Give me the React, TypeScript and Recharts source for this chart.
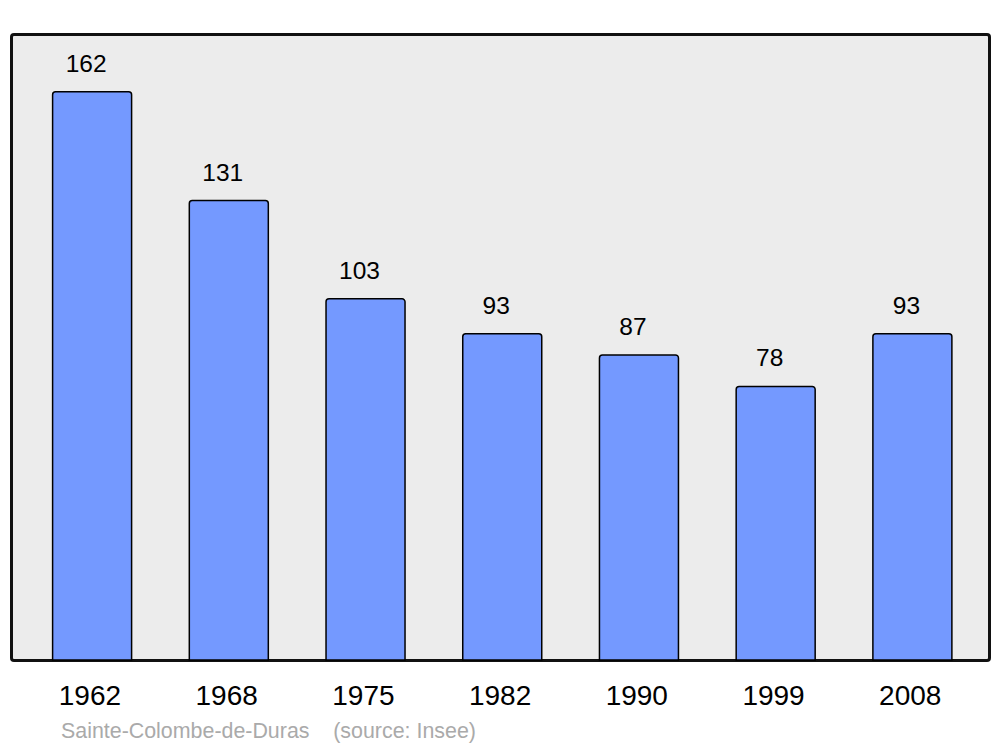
import React from 'react';
import { BarChart, Bar, XAxis, YAxis, LabelList } from 'recharts';

const years = ['1962', '1968', '1975', '1982', '1990', '1999', '2008'];
const population = [162, 131, 103, 93, 87, 78, 93];
const caption = 'Sainte-Colombe-de-Duras    (source: Insee)';

const data = years.map((y, i) => ({ year: y, pop: population[i] }));

export default function App() {
  return (
    <div style={{ position: 'absolute', left: 0, top: 0, width: 1000, height: 747, background: '#fff', fontFamily: '"Liberation Sans", Arial, sans-serif' }}>
      <div style={{ position: 'absolute', left: 9.5, top: 32.5, width: 981, height: 629, boxSizing: 'border-box', background: '#ececec', border: '3px solid #111', borderRadius: 4 }} />
      <div style={{ position: 'absolute', left: 0, top: 0 }}>
        <BarChart width={1000} height={747} data={data} margin={{ top: 34, left: 23.6, right: 19.4, bottom: 0 }}>
          <XAxis dataKey="year" axisLine={false} tickLine={false} height={87} tickMargin={19} dx={-2}
            tick={{ fontSize: 28, fill: '#000', fontFamily: '"Liberation Sans", Arial, sans-serif' }} interval={0} />
          <YAxis hide domain={[0, 178.5]} />
          <Bar dataKey="pop" fill="#7499ff" stroke="#000" strokeWidth={1.5} barSize={79} radius={[3, 3, 0, 0]} isAnimationActive={false}>
            <LabelList dataKey="pop" position="top" offset={20} dx={-6}
              style={{ fontSize: 24.5, fill: '#000', fontFamily: '"Liberation Sans", Arial, sans-serif' }} />
          </Bar>
        </BarChart>
      </div>
      <div style={{ position: 'absolute', left: 61, top: 720, fontSize: 21.4, lineHeight: 1.117, color: '#aaa', whiteSpace: 'pre' }}>{caption}</div>
    </div>
  );
}
